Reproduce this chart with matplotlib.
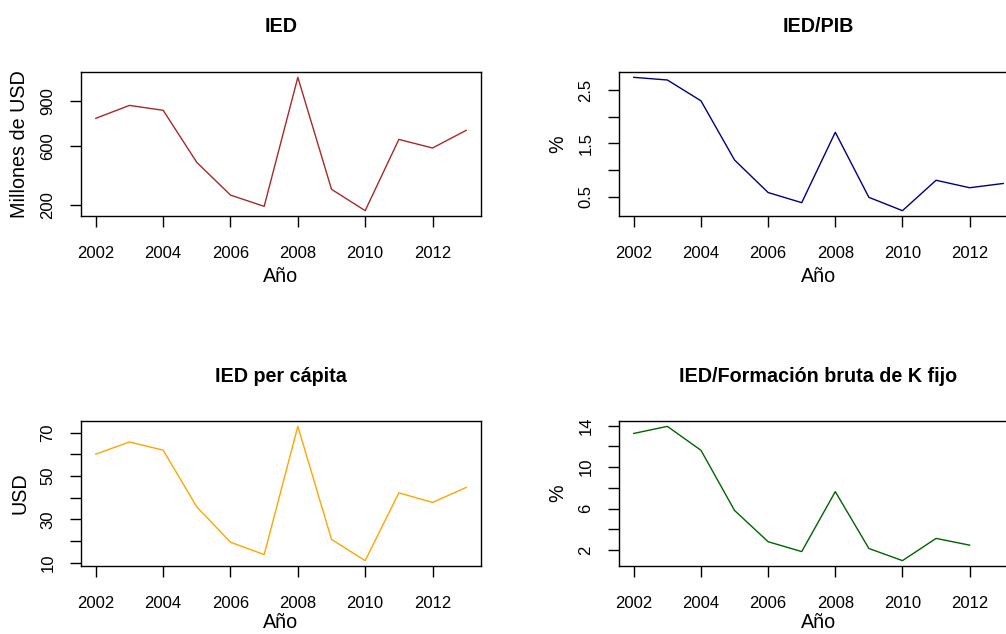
import numpy as np
import matplotlib
matplotlib.use('Agg')
import matplotlib.pyplot as plt

# IED indicators, 2002-2013, 2x2 panels in R base-graphics look

years = [2002, 2003, 2004, 2005, 2006, 2007, 2008, 2009, 2010, 2011, 2012, 2013]
ied = [784, 871, 838, 487, 267, 191, 1060, 306, 162, 642, 584, 703]
ied_pib = [2.74, 2.69, 2.30, 1.19, 0.58, 0.39, 1.71, 0.49, 0.24, 0.81, 0.67, 0.75]
ied_pc = [60.1, 65.7, 61.9, 35.7, 19.4, 13.7, 72.9, 20.7, 10.9, 42.2, 37.8, 44.7]
ied_fbk = [13.24, 13.92, 11.62, 5.83, 2.82, 1.87, 7.64, 2.17, 1.0, 3.14, 2.49, np.nan]

titles = ['IED', 'IED/PIB', 'IED per cápita', 'IED/Formación bruta de K fijo']
ylabels = ['Millones de USD', '%', 'USD', '%']
colors = ['#A52A2A', '#000080', '#FFA500', '#006400']
series = [ied, ied_pib, ied_pc, ied_fbk]
yticks = [[200, 600, 900],
          [0.5, 1.0, 1.5, 2.0, 2.5],
          [10, 20, 30, 40, 50, 60, 70],
          [2, 4, 6, 8, 10, 12, 14]]
ytick_labels = [['200', '600', '900'],
                ['0.5', '', '1.5', '', '2.5'],
                ['10', '', '30', '', '50', '', '70'],
                ['2', '', '6', '', '10', '', '14']]
xticks = [2002, 2004, 2006, 2008, 2010, 2012]

plt.rcParams['font.family'] = ['Liberation Sans', 'DejaVu Sans']

W, H = 1006, 634
fig = plt.figure(figsize=(W / 100, H / 100), dpi=100)

# panel boxes in pixels: left, right, top, bottom
boxes = [(81, 481, 72, 216), (619, 1018, 72, 216),
         (81, 481, 421, 566), (619, 1018, 421, 566)]
# distance from box bottom to centre of "Año"
xlab_off = [61, 61, 56, 56]

for i in range(4):
    l, r, t, b = boxes[i]
    ax = fig.add_axes([l / W, (H - b) / H, (r - l) / W, (b - t) / H])
    y = np.array(series[i], dtype=float)
    ax.plot(years, y, color=colors[i], linewidth=1.0)

    # R style 4% padding
    ymin, ymax = np.nanmin(y), np.nanmax(y)
    pad = 0.04 * (ymax - ymin)
    ax.set_ylim(ymin - pad, ymax + pad)
    ax.set_xlim(2002 - 0.44, 2013 + 0.44)

    ax.set_xticks(xticks)
    ax.set_yticks(yticks[i])
    ax.set_yticklabels(ytick_labels[i], rotation=90, va='center')
    ax.tick_params(length=8, width=1.0, labelsize=12, color='black')
    ax.tick_params(axis='x', pad=13.5)
    ax.tick_params(axis='y', pad=10.5)
    for sp in ax.spines.values():
        sp.set_linewidth(1.0)

    ax.set_title(titles[i], fontsize=14.2, fontweight='bold', y=1 + 45 / (b - t), va='center', pad=0)
    ax.set_xlabel('Año', fontsize=14.2)
    ax.xaxis.set_label_coords(0.5, -xlab_off[i] / (b - t))
    ax.xaxis.label.set_va('center')
    ax.set_ylabel(ylabels[i], fontsize=14.2)
    ax.yaxis.set_label_coords(-61 / (r - l), 0.5)
    ax.yaxis.label.set_va('center')

plt.savefig('out.png', dpi=100)
